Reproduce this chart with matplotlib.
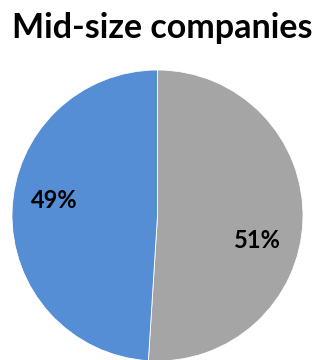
import matplotlib
matplotlib.use("Agg")
import matplotlib.pyplot as plt

title = "Mid-size companies"
segments = ["Other", "Mid-size"]
shares = [51, 49]
colors = ["#A5A5A5", "#558ED5"]

W, H = 324, 360
fig = plt.figure(figsize=(W / 100, H / 100), dpi=100)
ax = fig.add_axes([0, 0, 1, 1])

cx, cy, r = 157.5, H - 215.5, 145.5
ax.pie(shares, colors=colors, startangle=90, counterclock=False,
       center=(cx, cy), radius=r, frame=True,
       wedgeprops=dict(edgecolor="white", linewidth=0.6))
ax.set_xlim(0, W)
ax.set_ylim(0, H)
ax.set_aspect("equal")
ax.axis("off")

label_pos = [(257, H - 240), (54, H - 200)]
for v, (x, y) in zip(shares, label_pos):
    ax.text(x, y, f"{v}%", ha="center", va="center", fontsize=17,
            fontweight="bold", family="Lato", color="black")

fig.text(0.5, 1 - 28 / H, title, ha="center", va="center", fontsize=24.5,
         fontweight="bold", family="Lato", color="black")

fig.savefig("out.png", dpi=100, facecolor="white")
